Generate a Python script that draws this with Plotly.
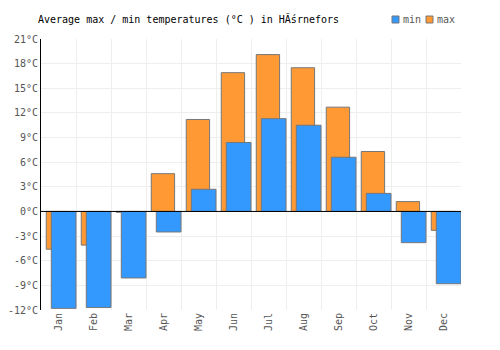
import plotly.graph_objects as go

months = ["Jan", "Feb", "Mar", "Apr", "May", "Jun", "Jul", "Aug", "Sep", "Oct", "Nov", "Dec"]
max_temps = [-4.6, -4.1, -0.1, 4.6, 11.2, 16.9, 19.1, 17.5, 12.7, 7.3, 1.2, -2.3]
min_temps = [-11.8, -11.7, -8.1, -2.5, 2.7, 8.4, 11.3, 10.5, 6.6, 2.2, -3.8, -8.8]
y_ticks = list(range(-12, 22, 3))
y_ticktext = [f"{v}°C" for v in y_ticks]

FONT = "DejaVu Sans Mono"
BLUE = "#3399ff"
ORANGE = "#ff9933"
EDGE = "#777777"

fig = go.Figure()
fig.add_trace(go.Bar(
    x=months, y=max_temps, name="max",
    marker=dict(color=ORANGE, line=dict(color=EDGE, width=1)),
    offset=-0.35, width=0.667,
))
fig.add_trace(go.Bar(
    x=months, y=min_temps, name="min",
    marker=dict(color=BLUE, line=dict(color=EDGE, width=1)),
    offset=-0.206, width=0.706,
))

W, H = 500, 350
# legend drawn as small squares + text
legend_items = [("min", BLUE, 392), ("max", ORANGE, 426)]
shapes = []
annotations = []
for label, color, px in legend_items:
    shapes.append(dict(type="rect", xref="paper", yref="paper",
                       x0=(px - 41) / 420, x1=(px + 7 - 41) / 420,
                       y0=(310 - 23) / 271, y1=(310 - 16) / 271,
                       fillcolor=color, line=dict(color=EDGE, width=1)))
    annotations.append(dict(text=label, xref="paper", yref="paper",
                            x=(px + 9 - 41) / 420, y=(310 - 19.5) / 271,
                            xanchor="left", yanchor="middle", showarrow=False,
                            font=dict(family=FONT, size=10, color="#555555")))
# zero baseline drawn above the bars
shapes.append(dict(type="line", xref="paper", yref="y", x0=0, x1=1, y0=0, y1=0,
                   line=dict(color="#000000", width=1), layer="above"))

fig.update_layout(
    width=W, height=H,
    margin=dict(l=41, r=39, t=39, b=40, autoexpand=False),
    barmode="overlay",
    paper_bgcolor="white", plot_bgcolor="white",
    font=dict(family=FONT, size=10, color="#555555"),
    title=dict(text="Average max / min temperatures (°C ) in HĂśrnefors",
               x=38/W, xanchor="left", y=1-19/H, yanchor="middle",
               font=dict(family=FONT, size=10, color="#000000")),
    showlegend=False,
    shapes=shapes,
    annotations=annotations,
    xaxis=dict(type="category", tickson="boundaries", showgrid=True, gridcolor="#eeeeee",
               tickangle=-90, ticks="", showline=False, zeroline=False,
               tickfont=dict(family=FONT, size=10, color="#555555"),
               range=[-0.5, 11.5]),
    yaxis=dict(range=[-12, 21], tickvals=y_ticks, ticktext=y_ticktext, showgrid=True,
               gridcolor="#eeeeee", zeroline=False,
               showline=True, linecolor="#000000", linewidth=1, ticks="",
               tickfont=dict(family=FONT, size=10, color="#555555")),
)

fig.write_html("out.html")
